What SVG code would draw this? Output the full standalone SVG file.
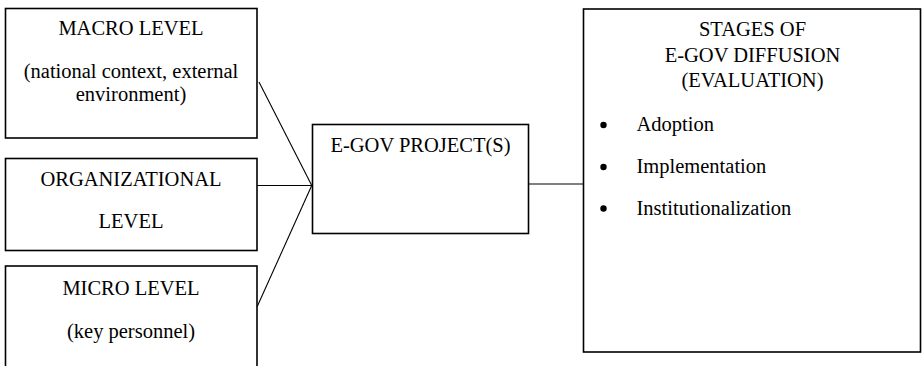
<svg xmlns="http://www.w3.org/2000/svg" width="922" height="366" viewBox="0 0 922 366">
<style>
.box{fill:#fff;stroke:#000;stroke-width:1.6}
.t{font-family:'Liberation Serif','DejaVu Serif','Times New Roman',serif;font-size:20.5px;fill:#000}
.c{text-anchor:middle}
.ln{stroke:#000;stroke-width:1.1;fill:none}
</style>
<rect width="922" height="366" fill="#fff"/>
<g id="connectors">
<line class="ln" x1="259" y1="82" x2="311.5" y2="185"/>
<line class="ln" x1="257" y1="185.5" x2="312" y2="185.5"/>
<line class="ln" x1="257" y1="307" x2="311.5" y2="186"/>
<line class="ln" x1="528" y1="184" x2="583" y2="184"/>
</g>
<g id="macro">
<rect class="box" x="5.5" y="8.5" width="251.5" height="129.5"/>
<text class="t c" x="131" y="35">MACRO LEVEL</text>
<text class="t c" x="131" y="78">(national context, external</text>
<text class="t c" x="131" y="101">environment)</text>
</g>
<g id="organizational">
<rect class="box" x="5.5" y="158.5" width="251.5" height="92"/>
<text class="t c" x="131" y="186">ORGANIZATIONAL</text>
<text class="t c" x="131" y="228">LEVEL</text>
</g>
<g id="micro">
<rect class="box" x="5.5" y="266" width="251.5" height="110"/>
<text class="t c" x="131" y="295">MICRO LEVEL</text>
<text class="t c" x="131" y="338">(key personnel)</text>
</g>
<g id="egov">
<rect class="box" x="312.5" y="124.5" width="216" height="109"/>
<text class="t c" x="420.5" y="152">E-GOV PROJECT(S)</text>
</g>
<g id="stages">
<rect class="box" x="583.5" y="9" width="337" height="343"/>
<text class="t c" x="752.5" y="36">STAGES OF</text>
<text class="t c" x="752.5" y="61.5">E-GOV DIFFUSION</text>
<text class="t c" x="752.5" y="87">(EVALUATION)</text>
<circle cx="603.5" cy="125" r="3.2"/>
<text class="t" x="636.5" y="131">Adoption</text>
<circle cx="603.5" cy="167" r="3.2"/>
<text class="t" x="636.5" y="173">Implementation</text>
<circle cx="603.5" cy="208.5" r="3.2"/>
<text class="t" x="636.5" y="214.5">Institutionalization</text>
</g>
</svg>
